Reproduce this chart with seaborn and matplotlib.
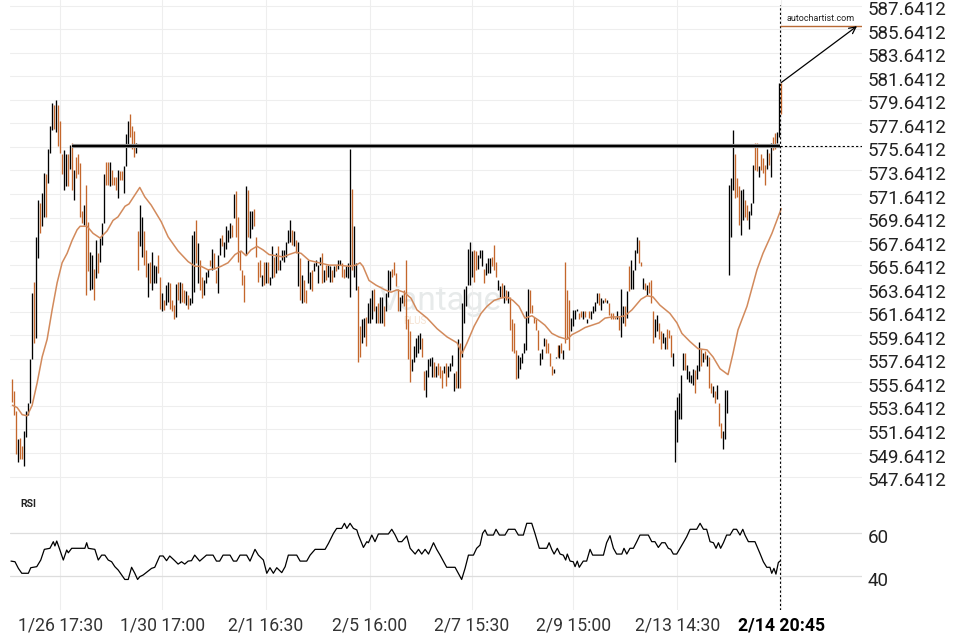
import numpy as np
import matplotlib
matplotlib.use("Agg")
import matplotlib.pyplot as plt
import matplotlib.transforms as mtransforms
import seaborn as sns

# bar highs / lows (one row = 10 bars)
highs = [
    555.9, 554.9, 553.2, 550.8, 550.9, 550.2, 551.5, 553.2, 553.9, 557.6,
    563.2, 564.2, 568.0, 571.1, 570.9, 571.7, 573.4, 573.3, 575.5, 577.4,
    579.4, 579.2, 579.6, 579.2, 577.8, 575.0, 575.4, 575.0, 575.0, 575.8,
    576.0, 573.7, 574.8, 575.0, 574.3, 570.2, 570.7, 572.4, 569.3, 566.7,
    566.5, 565.3, 567.7, 566.6, 567.9, 569.2, 573.3, 574.4, 574.4, 574.4,
    573.7, 573.1, 573.1, 573.7, 573.6, 573.6, 574.0, 576.7, 577.8, 578.4,
    577.4, 577.0, 576.0, 568.5, 570.7, 569.7, 568.5, 566.9, 565.8, 565.9,
    566.7, 565.6, 565.5, 566.5, 564.6, 563.2, 562.6, 563.9, 564.2, 564.1,
    562.6, 562.2, 564.0, 564.2, 564.2, 564.1, 563.5, 563.4, 563.1, 562.8,
    568.2, 568.5, 569.4, 567.5, 566.0, 564.6, 564.3, 565.0, 565.3, 566.0,
    567.0, 566.6, 565.2, 566.5, 567.9, 568.2, 567.6, 568.9, 568.6, 569.2,
    569.0, 571.6, 571.9, 569.7, 566.8, 565.2, 564.8, 572.3, 572.0, 570.2,
    570.2, 570.4, 568.0, 565.9, 566.0, 564.8, 565.9, 565.9, 565.9, 564.6,
    567.2, 566.3, 566.6, 567.2, 566.0, 566.9, 566.9, 567.6, 568.6, 569.4,
    568.6, 568.5, 567.7, 567.6, 566.2, 564.8, 564.3, 563.5, 566.0, 565.0,
    565.2, 565.8, 566.0, 565.6, 566.3, 566.6, 565.2, 565.6, 565.6, 565.5,
    565.2, 565.5, 565.6, 566.0, 566.0, 565.8, 565.3, 565.5, 565.8, 575.5,
    572.1, 568.9, 565.8, 563.8, 560.4, 561.0, 561.1, 561.2, 562.4, 562.8,
    563.5, 563.6, 562.1, 562.4, 562.9, 562.9, 562.1, 563.2, 565.2, 565.1,
    565.3, 565.9, 564.9, 563.6, 562.9, 563.1, 563.5, 566.0, 561.0, 560.0,
    557.6, 558.7, 559.4, 559.7, 559.8, 559.4, 556.6, 556.7, 557.6, 557.7,
    557.8, 557.4, 557.0, 557.3, 557.0, 556.7, 557.0, 557.3, 557.0, 557.3,
    558.0, 556.4, 556.6, 559.3, 559.0, 562.4, 563.6, 563.8, 567.0, 567.6,
    566.8, 566.9, 566.8, 566.5, 566.9, 566.9, 565.3, 565.8, 566.2, 566.2,
    566.3, 567.3, 565.9, 564.3, 563.8, 564.1, 563.9, 563.5, 563.4, 562.9,
    561.0, 560.7, 558.4, 558.0, 557.8, 558.1, 559.0, 561.7, 563.6, 563.5,
    562.2, 561.2, 561.0, 560.1, 558.1, 558.5, 559.4, 559.3, 559.0, 558.1,
    557.0, 556.8, 557.8, 558.8, 558.8, 559.0, 558.4, 565.9, 563.5, 562.6,
    561.1, 561.8, 561.8, 561.9, 561.5, 561.7, 561.7, 561.7, 561.0, 561.7,
    561.7, 562.1, 562.5, 563.2, 563.2, 562.8, 562.6, 562.8, 562.6, 562.4,
    561.5, 561.5, 561.2, 561.7, 561.2, 563.6, 562.1, 562.1, 563.4, 565.5,
    566.0, 565.2, 566.9, 568.0, 567.7, 565.9, 564.5, 564.1, 563.9, 564.2,
    564.3, 561.7, 561.0, 561.4, 560.7, 560.0, 559.8, 559.5, 560.2, 560.1,
    559.7, 558.1, 553.3, 554.4, 554.7, 556.3, 558.1, 558.1, 557.1, 556.6,
    556.3, 556.8, 556.7, 557.1, 559.1, 558.5, 558.1, 558.3, 558.0, 557.8,
    555.6, 555.3, 554.9, 555.4, 553.9, 552.2, 551.5, 555.0, 555.0, 572.4,
    573.0, 577.1, 575.0, 573.0, 572.3, 572.0, 572.1, 571.1, 570.7, 570.2,
    570.9, 574.1, 576.0, 576.0, 574.0, 575.0, 574.7, 574.1, 575.5, 575.1,
    576.0, 576.5, 576.8, 576.9, 581.1, 581.1,
]
lows = [
    554.0, 552.9, 549.6, 548.9, 549.1, 549.1, 548.5, 551.0, 552.9, 553.9,
    557.6, 559.0, 559.4, 566.2, 568.3, 568.9, 569.7, 569.7, 572.6, 575.1,
    577.1, 577.2, 576.9, 575.7, 575.1, 573.3, 572.0, 572.3, 572.3, 573.8,
    572.0, 571.1, 573.0, 573.3, 569.7, 569.2, 569.0, 563.1, 565.1, 563.5,
    563.6, 562.6, 564.5, 564.9, 565.9, 567.3, 569.2, 572.4, 572.4, 572.3,
    572.4, 572.4, 572.0, 571.3, 572.8, 572.8, 571.7, 574.0, 575.8, 576.5,
    575.5, 574.8, 575.1, 565.2, 567.2, 566.3, 565.6, 564.6, 562.9, 564.1,
    563.5, 564.1, 564.1, 564.9, 561.9, 561.7, 561.8, 562.2, 562.5, 561.9,
    561.7, 561.0, 561.2, 562.6, 562.4, 562.5, 562.4, 562.2, 561.9, 562.2,
    562.4, 563.3, 565.8, 564.1, 563.5, 562.8, 563.1, 564.1, 564.6, 565.5,
    565.2, 565.3, 564.1, 563.2, 566.5, 567.2, 566.3, 567.0, 567.6, 567.9,
    568.0, 569.6, 568.0, 565.9, 565.2, 563.9, 562.5, 566.5, 568.0, 567.9,
    568.7, 568.9, 566.3, 564.2, 564.6, 563.8, 563.9, 564.1, 564.1, 563.9,
    564.5, 564.6, 564.9, 565.2, 565.2, 566.0, 565.9, 566.3, 567.5, 567.6,
    567.3, 567.2, 566.6, 563.8, 562.6, 562.4, 562.5, 562.4, 564.1, 563.6,
    563.4, 565.1, 565.5, 564.1, 565.6, 564.1, 564.2, 564.3, 564.6, 564.2,
    564.2, 564.6, 565.1, 565.3, 565.6, 564.6, 564.5, 564.6, 564.5, 562.9,
    565.2, 564.6, 563.5, 557.4, 557.8, 559.0, 559.5, 558.7, 560.7, 560.7,
    561.0, 561.7, 560.7, 560.7, 560.7, 560.7, 560.4, 561.7, 562.9, 563.5,
    564.6, 564.8, 563.8, 561.7, 561.7, 562.4, 562.1, 560.2, 557.6, 555.7,
    556.6, 557.4, 557.8, 558.1, 558.5, 557.8, 555.0, 554.4, 556.1, 557.0,
    556.1, 556.1, 556.1, 556.3, 556.0, 555.2, 556.4, 555.3, 556.1, 556.6,
    557.0, 554.9, 555.2, 555.2, 555.2, 557.8, 560.7, 562.1, 563.9, 563.9,
    564.6, 564.2, 565.2, 565.3, 566.2, 565.5, 564.1, 564.8, 564.9, 564.9,
    565.5, 565.2, 564.6, 563.5, 562.9, 562.9, 562.4, 562.6, 562.4, 560.1,
    558.3, 558.1, 555.9, 556.0, 556.8, 557.3, 558.1, 558.4, 560.7, 561.5,
    561.5, 560.7, 560.1, 558.4, 557.1, 557.6, 558.7, 558.1, 558.1, 557.0,
    556.3, 556.4, 557.7, 557.8, 557.7, 558.1, 557.6, 559.0, 559.3, 558.4,
    560.0, 560.4, 561.0, 561.7, 561.0, 561.2, 561.0, 561.2, 560.7, 561.1,
    561.0, 561.5, 561.7, 562.4, 562.2, 561.8, 562.4, 562.5, 562.4, 561.4,
    561.0, 561.0, 561.0, 561.0, 560.1, 559.5, 560.7, 560.4, 561.1, 563.4,
    563.6, 563.6, 565.2, 566.6, 565.8, 565.5, 563.6, 563.5, 563.1, 563.2,
    562.4, 559.0, 559.5, 560.0, 559.3, 558.5, 559.0, 558.5, 558.5, 559.4,
    557.8, 557.0, 548.9, 550.6, 552.5, 552.5, 556.7, 556.7, 555.9, 555.7,
    555.6, 555.4, 554.7, 555.9, 556.6, 557.0, 557.4, 557.6, 557.0, 555.2,
    554.7, 554.4, 553.9, 554.2, 551.9, 550.9, 550.0, 550.8, 553.0, 564.8,
    568.0, 572.0, 571.3, 571.4, 569.0, 568.2, 569.4, 569.7, 569.4, 568.7,
    569.9, 570.9, 573.7, 573.6, 573.1, 573.7, 573.4, 572.4, 573.8, 574.1,
    573.1, 575.4, 575.5, 576.0, 576.5, 578.4,
]
# u = up bar (black), d = down bar (orange)
direction = "".join([
    "dddudduuuu", "uduuduuduu", "ududdduudu", "dudddduddu", "ududuuuddu",
    "dddudduuud", "dduduuddud", "uuudduduud", "ddududdudu", "uududduuud",
    "udduuduuuu", "dudddddudu", "uddddududu", "ududuuuuuu", "dudududduu",
    "duuuududuu", "duduudduuu", "duudduuduu", "ududuuduuu", "dddduudddd",
    "uuuuudduuu", "ududdduduu", "uududuuuuu", "udduuuduuu", "ddduududud",
    "ddduuuuuud", "dddduuuddd", "duudududdd", "uuuuddudud", "uuuuduudud",
    "ddduduudud", "uuuuddudud", "dduudduudd", "duuuuuuduu", "uuduududud",
    "dududduuuu", "uuddduuddu", "uuddudddud", "udduud",
])

# moving average (bar position, value)
ma_bar = [0, 2.4, 4.9, 7.4, 9.9, 12.4, 14.9, 17.4, 19.9, 22.4, 24.9, 27.4, 29.9, 32.4, 33.9,
          37.4, 40.4, 43.9, 47.4, 50.4, 52.9, 56.4, 58.4, 63.8, 66.3, 69.5, 74.5, 78.0, 83.0, 88.0,
          91.5, 94.5, 98.0, 101.5, 104.5, 108.0, 111.5, 114.5, 117.0, 119.5, 122.5, 125.5, 128.5,
          132.0, 135.5, 138.5, 142.0, 144.6, 148.6, 153.6, 158.6, 163.6, 168.6, 172.1, 174.1, 175.6,
          178.6, 182.1, 186.6, 189.6, 192.6, 196.1, 199.6, 202.6, 207.7, 212.7, 217.7, 222.7, 225.2,
          227.7, 231.2, 234.7, 237.7, 241.2, 244.7, 247.7, 250.7, 253.7, 256.7, 260.2, 263.7, 266.7,
          270.2, 273.7, 277.8, 280.3, 283.8, 286.8, 290.3, 293.8, 296.8, 300.3, 303.8, 306.8, 310.3,
          314.8, 317.8, 320.8, 324.3, 329.3, 332.8, 335.3, 339.4, 343.4, 347.9, 350.9, 354.4, 358.4,
          360.9, 363.4, 367.9, 372.9, 375.9, 380.4, 384.4, 385]
ma_value = [553.7, 553.5, 552.9, 552.8, 553.7, 555.6, 557.8, 559.3, 561.8, 564.1, 565.8, 566.6,
            567.7, 568.6, 568.9, 568.9, 568.3, 567.9, 568.5, 569.4, 569.7, 570.6, 570.8, 572.2, 571.4,
            570.7, 569.3, 568.0, 566.8, 565.9, 565.5, 565.5, 565.2, 565.3, 565.5, 565.8, 566.5, 566.8,
            566.4, 566.9, 567.2, 566.9, 566.5, 566.4, 566.3, 566.5, 566.7, 566.6, 566.0, 565.8, 565.6,
            565.6, 565.5, 565.6, 565.8, 565.5, 564.3, 563.9, 563.5, 563.3, 563.5, 563.3, 562.8, 561.8,
            561.1, 560.2, 559.5, 559.0, 558.1, 559.0, 560.4, 561.5, 562.1, 562.6, 562.8, 562.9, 562.6,
            562.1, 561.1, 561.3, 560.9, 560.5, 559.8, 559.5, 559.3, 559.7, 560.0, 560.3, 560.5, 560.7,
            561.1, 561.2, 561.2, 561.3, 561.8, 562.7, 563.0, 562.9, 562.2, 561.5, 560.7, 559.8, 559.1,
            558.5, 558.4, 557.8, 556.8, 556.3, 558.1, 560.1, 562.1, 565.2, 566.6, 568.3, 570.1, 570.4]

# RSI (bar position, value)
rsi_bar = [-0.7, 1.3, 3.0, 4.7, 8.0, 9.2, 12.2, 14.2, 16.0, 18.8,
           20.5, 21.3, 22.2, 23.5, 25.5, 27.2, 28.0, 29.7, 36.3, 37.2,
           38.0, 41.3, 43.0, 44.7, 46.3, 48.0, 49.7, 51.3, 53.0, 54.7,
           56.3, 58.0, 59.7, 61.3, 62.7, 63.8, 65.5, 69.7, 71.3, 73.8,
           75.5, 77.2, 78.8, 81.3, 83.0, 84.7, 86.3, 88.0, 89.7, 91.3,
           93.8, 97.2, 100.5, 102.2, 103.8, 105.5, 109.0, 110.7, 112.3, 114.0,
           117.3, 119.0, 121.5, 123.2, 125.7, 127.4, 129.0, 130.7, 132.4, 134.9,
           136.6, 138.2, 142.4, 144.1, 147.4, 149.1, 151.6, 156.6, 158.3, 160.8,
           162.4, 164.9, 166.3, 167.5, 169.1, 170.8, 172.5, 173.3, 175.8, 177.5,
           178.3, 180.0, 181.6, 183.3, 188.3, 190.0, 191.7, 193.3, 195.0, 197.5,
           199.2, 201.7, 203.4, 205.0, 206.7, 208.4, 210.9, 212.5, 214.2, 217.5,
           221.7, 225.0, 226.7, 228.4, 230.9, 232.5, 234.2, 235.5, 236.7, 237.9,
           240.9, 242.2, 243.9, 246.7, 248.4, 251.7, 253.4, 255.9, 257.6, 260.1,
           261.7, 263.9, 267.6, 268.8, 270.1, 271.3, 272.9, 274.3, 275.9, 277.1,
           277.9, 279.3, 280.9, 281.8, 282.9, 283.9, 285.9, 287.6, 289.3, 290.6,
           296.0, 297.6, 299.3, 301.0, 302.6, 305.2, 306.3, 307.7, 309.3, 311.0,
           312.7, 314.3, 318.5, 320.2, 321.8, 323.5, 325.2, 326.9, 328.5, 329.7,
           331.0, 332.7, 334.4, 336.0, 337.7, 339.4, 342.7, 344.4, 346.1, 347.7,
           349.4, 351.1, 352.4, 353.6, 354.7, 356.1, 357.7, 359.4, 361.1, 362.7,
           364.4, 365.8, 366.9, 368.6, 371.9, 374.4, 376.1, 377.8, 379.4, 380.3,
           381.4, 382.4, 383.6, 384.4]
rsi_value = [47.0, 46.7, 43.6, 41.3, 41.3, 43.9, 44.4, 47.5, 52.5, 53.0,
             56.1, 54.1, 56.4, 53.0, 47.5, 52.2, 50.9, 53.0, 53.0, 55.6,
             53.0, 52.5, 47.5, 49.8, 49.8, 47.5, 46.7, 44.4, 42.8, 40.5,
             38.4, 38.4, 44.1, 41.3, 38.4, 39.7, 40.5, 43.6, 44.1, 49.4,
             49.4, 47.2, 49.4, 47.2, 45.6, 46.7, 45.6, 47.0, 47.2, 49.8,
             47.0, 49.8, 49.8, 47.0, 47.0, 49.8, 49.8, 47.0, 47.0, 49.8,
             49.8, 47.0, 52.5, 49.8, 47.5, 41.3, 43.9, 41.3, 43.9, 41.6,
             44.4, 49.8, 49.8, 47.0, 47.0, 49.8, 52.5, 52.5, 55.3, 60.0,
             62.3, 62.3, 64.7, 62.3, 64.7, 62.3, 61.6, 59.2, 53.4, 56.1,
             55.6, 59.2, 56.1, 59.7, 59.7, 61.9, 59.2, 56.1, 56.1, 58.8,
             53.0, 50.3, 52.5, 50.3, 52.5, 50.3, 55.6, 52.5, 49.8, 44.1,
             44.1, 38.4, 43.6, 49.8, 49.8, 53.0, 54.5, 60.0, 61.6, 59.2,
             59.2, 61.9, 59.2, 59.2, 61.9, 61.9, 59.2, 59.2, 64.7, 64.7,
             60.0, 53.0, 53.0, 55.6, 52.5, 50.3, 53.0, 50.3, 49.8, 47.5,
             50.3, 47.0, 46.7, 44.4, 47.0, 44.1, 47.0, 47.0, 52.5, 49.8,
             49.8, 55.6, 58.9, 53.0, 50.3, 50.3, 53.0, 50.3, 53.0, 53.0,
             56.1, 59.2, 59.2, 56.1, 56.1, 53.4, 55.6, 55.6, 53.0, 52.5,
             50.3, 50.3, 53.0, 55.6, 58.4, 61.9, 61.9, 64.7, 61.9, 61.9,
             56.1, 55.6, 53.0, 55.6, 53.0, 55.6, 59.2, 59.2, 61.9, 61.9,
             59.2, 61.9, 59.2, 56.1, 56.1, 50.6, 46.7, 44.1, 44.1, 41.3,
             43.6, 40.9, 46.3, 47.0]

tick_bars = [24, 75, 127, 179, 230, 281, 333, 385]
tick_labels = ["1/26 17:30", "1/30 17:00", "2/1 16:30", "2/5 16:00",
               "2/7 15:30", "2/9 15:00", "2/13 14:30", "2/14 20:45"]
price_ticks = np.arange(547.6412, 587.65, 2)
rsi_ticks = [40, 60]

resistance = 575.75
resistance_start = 30
target = 585.9
target_bar = 423

# ---- style
sns.set_theme(style="white")
plt.rcParams['font.family'] = ['Roboto', 'DejaVu Sans']

fig = plt.figure(figsize=(9.6, 6.4), dpi=100)
ax = fig.add_axes([10/960, 150/640, 852/960, 490/640])
ax2 = fig.add_axes([10/960, 30/640, 852/960, 120/640])

n = min(len(highs), len(lows), len(direction))
idx = np.arange(n)
down_col = '#c4672c'
colors = ['#000000' if c == 'u' else down_col for c in direction[:n]]
x_last = n - 1.5
xmin, xmax = -1.2, 425.5
ylo, yhi = 546.5, 588.12

# watermark
ax.text(0.505, 0.385, "Vantage", transform=ax.transAxes, fontsize=24,
        color='#e7eaea', ha='center', va='center', zorder=0)
ax.text(0.475, 0.345, "PLUS", transform=ax.transAxes, fontsize=7,
        color='#f5e3d3', ha='center', va='center', zorder=0)

ax.vlines(idx, lows[:n], highs[:n], colors=colors, linewidth=0.95, zorder=3)

m = min(len(ma_bar), len(ma_value))
sns.lineplot(x=ma_bar[:m], y=ma_value[:m], ax=ax, color='#d28a5c', linewidth=1.1,
             estimator=None, sort=False, zorder=4)

# resistance level
ax.hlines(resistance, resistance_start, x_last, color='#9a9a9a', linewidth=3.0, zorder=5)
ax.hlines(resistance, resistance_start, x_last, color='black', linewidth=1.6, zorder=6)
ax.hlines(resistance, x_last, xmax, color='black', linewidth=0.8, linestyles=(0, (2, 2)), zorder=6)

# current time marker
ax.vlines(x_last, ylo, 587.7, color='black', linewidth=0.8, linestyles=(0, (2, 2)), zorder=6)

# forecast arrow + target
ax.hlines(target, x_last, xmax, color='#b86a35', linewidth=1.0, zorder=6)
ax.annotate('', xy=(target_bar, target), xytext=(n - 1, highs[n - 1]),
            arrowprops=dict(arrowstyle='->', color='black', lw=0.9, shrinkA=0, shrinkB=0),
            zorder=7)
ax.text(405, target + 0.25, "autochartist.com", fontsize=6.5, ha='center', va='bottom',
        color='#222222')

ax.set_xlim(xmin, xmax)
ax.set_ylim(ylo, yhi)
ax.set_xticks(tick_bars)
ax.set_xticklabels([])
ax.set_yticks(price_ticks)
ax.set_yticklabels([f"{v:.4f}" for v in price_ticks])
ax.yaxis.tick_right()
ax.tick_params(axis='y', length=0, pad=4, labelsize=13.5, labelcolor='#222222')
ax.tick_params(axis='x', length=0)
ax.grid(True, color='#eeeeee', linewidth=0.8)
ax.set_axisbelow(True)

# ---- RSI pane
r = min(len(rsi_bar), len(rsi_value))
sns.lineplot(x=rsi_bar[:r], y=rsi_value[:r], ax=ax2, color='black', linewidth=0.9,
             estimator=None, sort=False, zorder=4)
ax2.axvline(x_last, color='black', linewidth=0.8, linestyle=(0, (2, 2)), zorder=6)
ax2.set_xlim(xmin, xmax)
ax2.set_ylim(24.1, 80.3)
ax2.set_yticks(rsi_ticks)
ax2.set_yticklabels([str(v) for v in rsi_ticks])
ax2.yaxis.tick_right()
ax2.tick_params(axis='y', length=0, pad=4, labelsize=13.5, labelcolor='#222222')
ax2.set_xticks(tick_bars)
ax2.set_xticklabels(tick_labels)
ax2.tick_params(axis='x', length=0, pad=5, labelsize=12.7, labelcolor='#333333')
ax2.get_xticklabels()[-1].set_fontweight('bold')
ax2.get_xticklabels()[-1].set_color('black')
ax2.grid(True, axis='y', color='#dddddd', linewidth=0.9)
ax2.grid(True, axis='x', color='#eeeeee', linewidth=0.8)
ax2.set_axisbelow(True)
ax2.text(10/852, 0.883, "RSI", transform=ax2.transAxes, fontsize=7.5,
         fontweight='bold', va='center', color='#222222')
ax2.set_xlabel('')
ax2.set_ylabel('')
ax.set_xlabel('')
ax.set_ylabel('')

# price labels sit a little below their grid lines
shift = mtransforms.ScaledTranslation(0, -2.5/100, fig.dpi_scale_trans)
for a in (ax, ax2):
    for lab in a.get_yticklabels():
        lab.set_transform(lab.get_transform() + shift)
    sns.despine(ax=a, left=True, bottom=True, right=True, top=True)

fig.savefig("out.png", dpi=100)
